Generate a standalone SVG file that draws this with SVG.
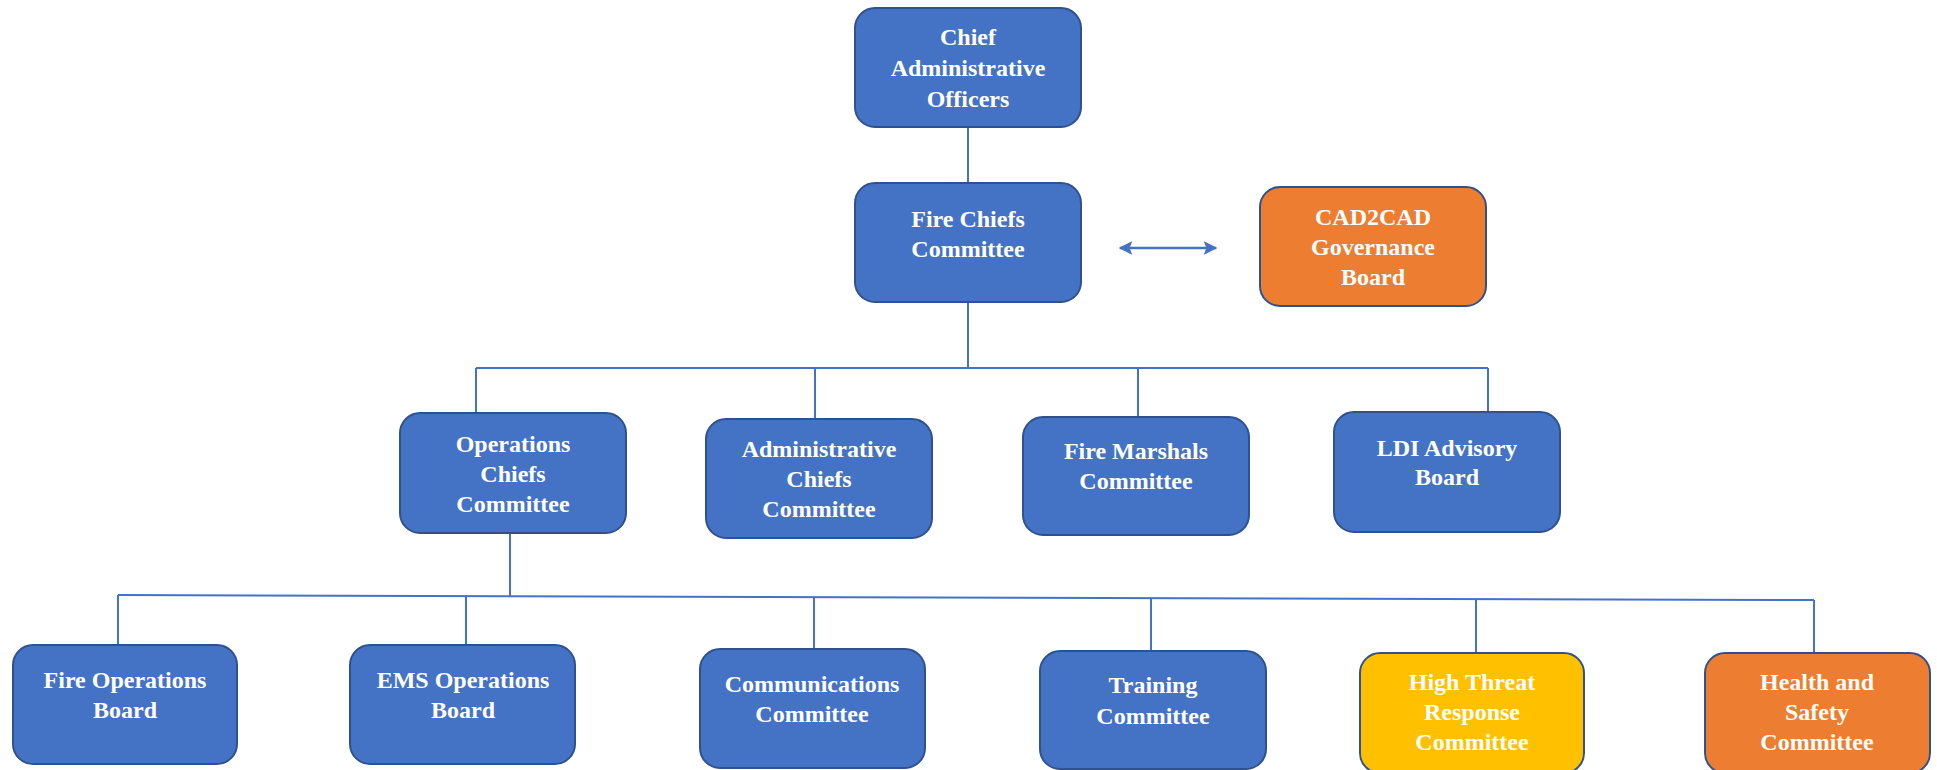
<svg xmlns="http://www.w3.org/2000/svg" width="1937" height="770" viewBox="0 0 1937 770">
<style>
.box{stroke:#2F528F;stroke-width:2}
.blue{fill:#4472C4}
.orange{fill:#ED7D31}
.yellow{fill:#FFC000}
.lbl{font-family:"Liberation Serif","Times New Roman",serif;font-weight:bold;font-size:24px;fill:#FFFFFF;text-anchor:middle}
.conn{stroke:#4472C4;stroke-width:2;fill:none}
.arrow{stroke:#4472C4;stroke-width:2.5;fill:none}
</style>
<defs>
<marker id="ah" viewBox="0 0 10 10" refX="9" refY="5" markerWidth="5.5" markerHeight="5.5" orient="auto-start-reverse" markerUnits="strokeWidth">
<path d="M0,0 L10,5 L0,10 L2,5 Z" fill="#4472C4"/>
</marker>
</defs>
<rect width="1937" height="770" fill="#FFFFFF"/>
<g id="connectors">
<line class="conn" x1="968" y1="127" x2="968" y2="183"/>
<line class="conn" x1="968" y1="302" x2="968" y2="368"/>
<line class="conn" x1="476" y1="368" x2="1488" y2="368"/>
<line class="conn" x1="476" y1="368" x2="476" y2="413"/>
<line class="conn" x1="815" y1="368" x2="815" y2="419"/>
<line class="conn" x1="1138" y1="368" x2="1138" y2="417"/>
<line class="conn" x1="1488" y1="368" x2="1488" y2="412"/>
<line class="conn" x1="510" y1="533" x2="510" y2="597"/>
<line class="conn" x1="118" y1="595" x2="1814" y2="600"/>
<line class="conn" x1="118" y1="595" x2="118" y2="645"/>
<line class="conn" x1="466" y1="596" x2="466" y2="645"/>
<line class="conn" x1="814" y1="597" x2="814" y2="649"/>
<line class="conn" x1="1151" y1="598" x2="1151" y2="651"/>
<line class="conn" x1="1476" y1="599" x2="1476" y2="653"/>
<line class="conn" x1="1814" y1="600" x2="1814" y2="653"/>
<line class="arrow" x1="1120" y1="248" x2="1216" y2="248" marker-start="url(#ah)" marker-end="url(#ah)"/>
</g>
<g id="chief-admin">
<rect class="box blue" x="855" y="8" width="226" height="119" rx="20"/>
<text class="lbl" x="968" y="45">Chief</text>
<text class="lbl" x="968" y="76">Administrative</text>
<text class="lbl" x="968" y="107">Officers</text>
</g>
<g id="fire-chiefs">
<rect class="box blue" x="855" y="183" width="226" height="119" rx="20"/>
<text class="lbl" x="968" y="227">Fire Chiefs</text>
<text class="lbl" x="968" y="257">Committee</text>
</g>
<g id="cad2cad">
<rect class="box orange" x="1260" y="187" width="226" height="119" rx="20"/>
<text class="lbl" x="1373" y="225">CAD2CAD</text>
<text class="lbl" x="1373" y="255">Governance</text>
<text class="lbl" x="1373" y="285">Board</text>
</g>
<g id="ops-chiefs">
<rect class="box blue" x="400" y="413" width="226" height="120" rx="20"/>
<text class="lbl" x="513" y="452">Operations</text>
<text class="lbl" x="513" y="482">Chiefs</text>
<text class="lbl" x="513" y="512">Committee</text>
</g>
<g id="admin-chiefs">
<rect class="box blue" x="706" y="419" width="226" height="119" rx="20"/>
<text class="lbl" x="819" y="457">Administrative</text>
<text class="lbl" x="819" y="487">Chiefs</text>
<text class="lbl" x="819" y="517">Committee</text>
</g>
<g id="fire-marshals">
<rect class="box blue" x="1023" y="417" width="226" height="118" rx="20"/>
<text class="lbl" x="1136" y="459">Fire Marshals</text>
<text class="lbl" x="1136" y="489">Committee</text>
</g>
<g id="ldi">
<rect class="box blue" x="1334" y="412" width="226" height="120" rx="20"/>
<text class="lbl" x="1447" y="456">LDI Advisory</text>
<text class="lbl" x="1447" y="485">Board</text>
</g>
<g id="fire-ops">
<rect class="box blue" x="13" y="645" width="224" height="119" rx="20"/>
<text class="lbl" x="125" y="688">Fire Operations</text>
<text class="lbl" x="125" y="718">Board</text>
</g>
<g id="ems-ops">
<rect class="box blue" x="350" y="645" width="225" height="119" rx="20"/>
<text class="lbl" x="463" y="688">EMS Operations</text>
<text class="lbl" x="463" y="718">Board</text>
</g>
<g id="communications">
<rect class="box blue" x="700" y="649" width="225" height="119" rx="20"/>
<text class="lbl" x="812" y="692">Communications</text>
<text class="lbl" x="812" y="722">Committee</text>
</g>
<g id="training">
<rect class="box blue" x="1040" y="651" width="226" height="118" rx="20"/>
<text class="lbl" x="1153" y="693">Training</text>
<text class="lbl" x="1153" y="724">Committee</text>
</g>
<g id="high-threat">
<rect class="box yellow" x="1360" y="653" width="224" height="120" rx="20"/>
<text class="lbl" x="1472" y="690">High Threat</text>
<text class="lbl" x="1472" y="720">Response</text>
<text class="lbl" x="1472" y="750">Committee</text>
</g>
<g id="health-safety">
<rect class="box orange" x="1705" y="653" width="225" height="120" rx="20"/>
<text class="lbl" x="1817" y="690">Health and</text>
<text class="lbl" x="1817" y="720">Safety</text>
<text class="lbl" x="1817" y="750">Committee</text>
</g>
</svg>
